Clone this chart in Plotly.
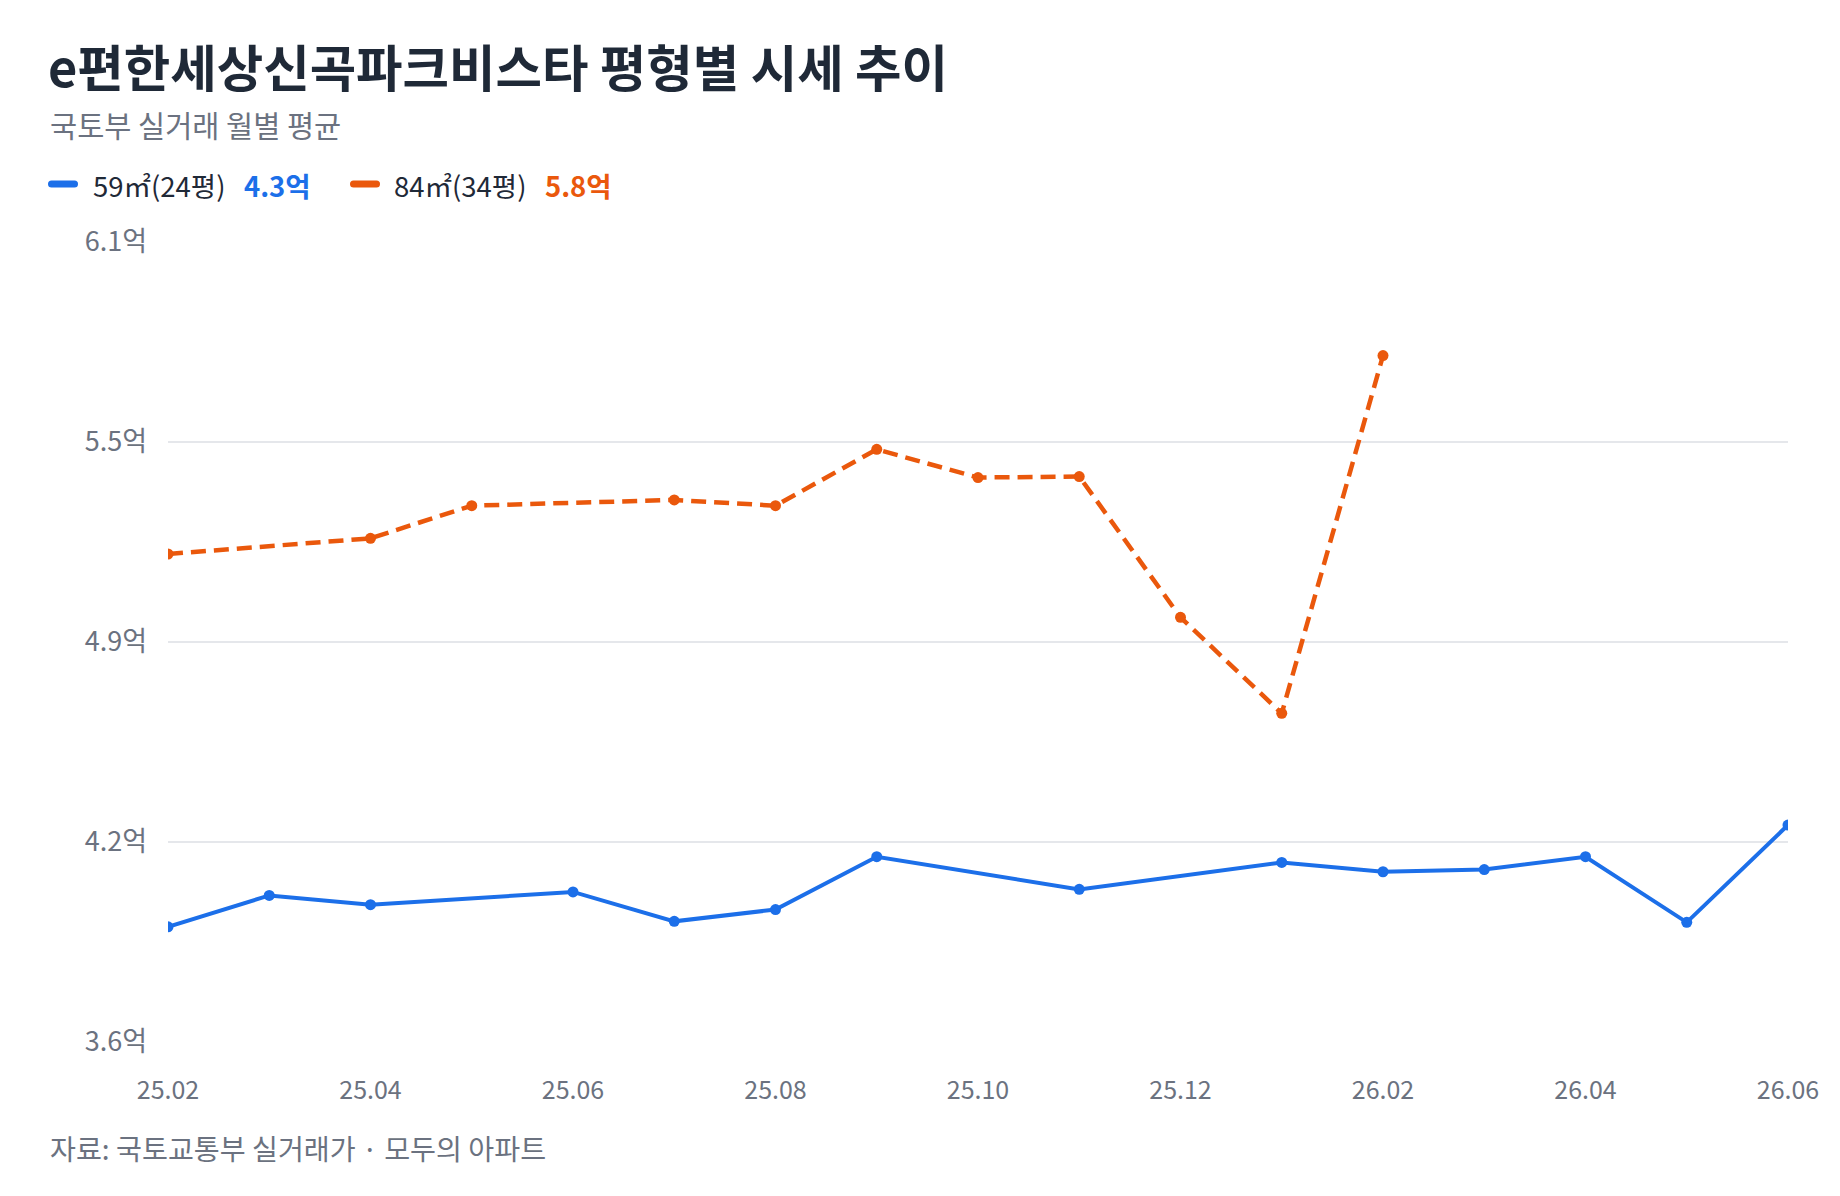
import plotly.graph_objects as go

months = ["25.02", "25.03", "25.04", "25.05", "25.06", "25.07", "25.08", "25.09",
          "25.10", "25.11", "25.12", "26.01", "26.02", "26.03", "26.04", "26.05", "26.06"]
tick_months = ["25.02", "25.04", "25.06", "25.08", "25.10", "25.12", "26.02", "26.04", "26.06"]

price_59 = [3.96, 4.058, 4.029, None, 4.069, 3.977, 4.014, 4.179,
            None, 4.077, None, 4.161, 4.132, 4.139, 4.179, 3.974, 4.278]
price_84 = [5.125, None, 5.174, 5.276, None, 5.294, 5.276, 5.452,
            5.364, 5.367, 4.927, 4.627, 5.745, None, None, None, None]

y_tickvals = [3.6, 4.225, 4.85, 5.475, 6.1]
y_ticktext = ["3.6억", "4.2억", "4.9억", "5.5억", "6.1억"]

name_59 = "59㎡(24평)"
name_84 = "84㎡(34평)"
latest_59 = "4.3억"
latest_84 = "5.8억"

title = "e편한세상신곡파크비스타 평형별 시세 추이"
subtitle = "국토부 실거래 월별 평균"
source = "자료: 국토교통부 실거래가 · 모두의 아파트"

BLUE = "#1c6fe9"
ORANGE = "#ea580c"
DARK = "#1f2937"
GRAY = "#6b7280"
FONT = "Noto Sans CJK KR"

W, H = 1840, 1196
L, R, T, B = 168, 52, 242, 154
PW, PH = W - L - R, H - T - B


def px(x):
    return (x - L) / PW


def py(y):
    return (H - B - y) / PH


fig = go.Figure()
fig.add_trace(go.Scatter(
    x=months, y=price_59, mode="lines+markers", name=name_59, connectgaps=True,
    line=dict(color=BLUE, width=4), marker=dict(color=BLUE, size=11),
))
fig.add_trace(go.Scatter(
    x=months, y=price_84, mode="lines+markers", name=name_84, connectgaps=True,
    line=dict(color=ORANGE, width=4.5, dash="15px,8px"), marker=dict(color=ORANGE, size=11),
))

annotations = [
    dict(text=f"<b>{title}</b>", x=px(46), y=py(65), xanchor="left", yanchor="middle",
         font=dict(size=50.5, color=DARK, family=FONT)),
    dict(text=subtitle, x=px(48), y=py(124), xanchor="left", yanchor="middle",
         font=dict(size=29.5, color=GRAY, family=FONT)),
    dict(text=f"{name_59}   <b><span style='color:{BLUE}'>{latest_59}</span></b>",
         x=px(91), y=py(185), xanchor="left", yanchor="middle",
         font=dict(size=27.5, color=DARK, family=FONT)),
    dict(text=f"{name_84}   <b><span style='color:{ORANGE}'>{latest_84}</span></b>",
         x=px(392), y=py(185), xanchor="left", yanchor="middle",
         font=dict(size=27.5, color=DARK, family=FONT)),
    dict(text=source, x=px(48), y=py(1147), xanchor="left", yanchor="middle",
         font=dict(size=28.2, color=GRAY, family=FONT)),
]
for a in annotations:
    a.update(xref="paper", yref="paper", showarrow=False)

pill = ("M 3.5,-3.5 L 26.5,-3.5 Q 30,-3.5 30,0 Q 30,3.5 26.5,3.5 "
        "L 3.5,3.5 Q 0,3.5 0,0 Q 0,-3.5 3.5,-3.5 Z")
shapes = []
for anchor_x, color in [(48, BLUE), (350, ORANGE)]:
    shapes.append(dict(
        type="path", xref="paper", yref="paper",
        xsizemode="pixel", ysizemode="pixel",
        xanchor=px(anchor_x), yanchor=py(184),
        path=pill, fillcolor=color, line=dict(width=0),
    ))

fig.update_layout(
    width=W, height=H,
    margin=dict(l=L, r=R, t=T, b=B),
    paper_bgcolor="white", plot_bgcolor="white",
    showlegend=False,
    font=dict(family=FONT, color=GRAY, size=24),
    annotations=annotations,
    shapes=shapes,
)
fig.update_xaxes(
    type="category", categoryorder="array", categoryarray=months,
    range=[0, len(months) - 1],
    tickmode="array", tickvals=tick_months, ticktext=tick_months,
    showgrid=False, zeroline=False, showline=False, ticks="",
    tickfont=dict(size=25, color=GRAY, family=FONT),
    ticklabelstandoff=31,
)
fig.update_yaxes(
    range=[3.6, 6.1], tickmode="array", tickvals=y_tickvals, ticktext=y_ticktext,
    showgrid=True, gridcolor="#e5e7eb", gridwidth=2, zeroline=False, showline=False, ticks="",
    tickfont=dict(size=27, color=GRAY, family=FONT),
    ticklabelstandoff=20,
)

fig.write_html("out.html")
